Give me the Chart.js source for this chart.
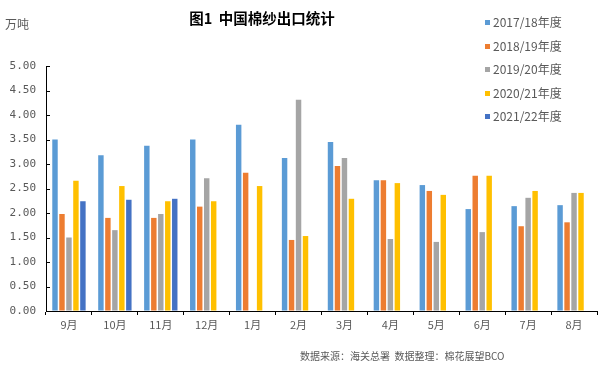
<!DOCTYPE html>
<html>
<head>
<meta charset="utf-8">
<script src="https://cdn.jsdelivr.net/npm/chart.js@4"></script>
<style>
  body { margin: 0; background: #fff; }
  #wrap { position: relative; width: 608px; height: 371px; font-family: "Noto Sans CJK SC", sans-serif; }
  #chart { position: absolute; left: 0; top: 0; }
  .txt { position: absolute; white-space: nowrap; color: #595959; }
  #title { left: 0; width: 524px; top: 7px; text-align: center; font-size: 14.5px; font-weight: bold; color: #000; }
  #unit { left: 5px; top: 15px; font-size: 12px; }
  #legend { left: 485px; top: 10px; font-size: 12px; line-height: 23.5px; }
  #legend span.box { display: inline-block; width: 5px; height: 5px; margin-right: 3px; vertical-align: middle; position: relative; top: -1px; }
  #foot { left: 300px; top: 348px; font-size: 10px; }
</style>
</head>
<body>
<div id="wrap">
  <canvas id="chart" width="608" height="371"></canvas>
  <div class="txt" id="title">图1&nbsp;&nbsp;中国棉纱出口统计</div>
  <div class="txt" id="unit">万吨</div>
  <div class="txt" id="legend"></div>
  <div class="txt" id="foot">数据来源：海关总署&nbsp;&nbsp;数据整理：棉花展望BCO</div>
</div>
<script>
const months = ['9月', '10月', '11月', '12月', '1月', '2月', '3月', '4月', '5月', '6月', '7月', '8月'];

const y2017 = [3.50, 3.18, 3.37, 3.50, 3.80, 3.12, 3.45, 2.67, 2.57, 2.08, 2.14, 2.16];
const y2018 = [1.98, 1.90, 1.90, 2.13, 2.82, 1.45, 2.96, 2.67, 2.45, 2.76, 1.73, 1.81];
const y2019 = [1.50, 1.65, 1.98, 2.71, null, 4.31, 3.12, 1.47, 1.41, 1.61, 2.31, 2.41];
const y2020 = [2.66, 2.55, 2.24, 2.24, 2.55, 1.53, 2.29, 2.61, 2.37, 2.76, 2.45, 2.41];
const y2021 = [2.24, 2.27, 2.29, null, null, null, null, null, null, null, null, null];

const seriesNames = ['2017/18年度', '2018/19年度', '2019/20年度', '2020/21年度', '2021/22年度'];
const seriesColors = ['#5B9BD5', '#ED7D31', '#A5A5A5', '#FFC000', '#4472C4'];
const seriesData = [y2017, y2018, y2019, y2020, y2021];

// legend as html text
const legendEl = document.getElementById('legend');
seriesNames.forEach((n, i) => {
    const row = document.createElement('div');
    row.innerHTML = '<span class="box" style="background:' + seriesColors[i] + '"></span>' + n;
    legendEl.appendChild(row);
});

// y axis ticks point inward
const innerTicks = {
    id: 'innerTicks',
    afterDraw(chart) {
        const ys = chart.scales.y;
        const ctx = chart.ctx;
        const left = chart.chartArea.left;
        ctx.save();
        ctx.strokeStyle = '#000';
        ctx.lineWidth = 1;
        ys.ticks.forEach(t => {
            const py = Math.round(ys.getPixelForValue(t.value)) + 0.5;
            ctx.beginPath();
            ctx.moveTo(left, py);
            ctx.lineTo(left + 4, py);
            ctx.stroke();
        });
        ctx.restore();
    }
};

const data = {
    labels: months,
    datasets: seriesData.map((d, i) => ({
        label: seriesNames[i],
        data: d,
        backgroundColor: seriesColors[i],
        categoryPercentage: 0.76,
        barPercentage: 0.78
    }))
};

const config = {
    type: 'bar',
    data: data,
    plugins: [innerTicks],
    options: {
        responsive: false,
        animation: false,
        layout: { padding: { left: 0, top: 66, right: 11, bottom: 30 } },
        plugins: { legend: { display: false }, tooltip: { enabled: false } },
        scales: {
            x: {
                grid: { display: true, drawOnChartArea: false, tickLength: 4, color: '#000', offset: true },
                border: { color: '#000' },
                ticks: { color: '#595959', font: { family: 'Noto Sans CJK SC', size: 11 }, padding: 3 },
                afterFit: s => { s.height = 30; }
            },
            y: {
                min: 0,
                max: 5,
                grid: { drawOnChartArea: false, drawTicks: false },
                border: { color: '#000' },
                ticks: {
                    stepSize: 0.5,
                    color: '#595959',
                    padding: 10,
                    font: { family: 'DejaVu Sans Mono', size: 11 },
                    callback: v => v.toFixed(2)
                },
                afterFit: s => { s.width = 46; }
            }
        }
    }
};

const myChart = new Chart(document.getElementById('chart'), config);
</script>
</body>
</html>
